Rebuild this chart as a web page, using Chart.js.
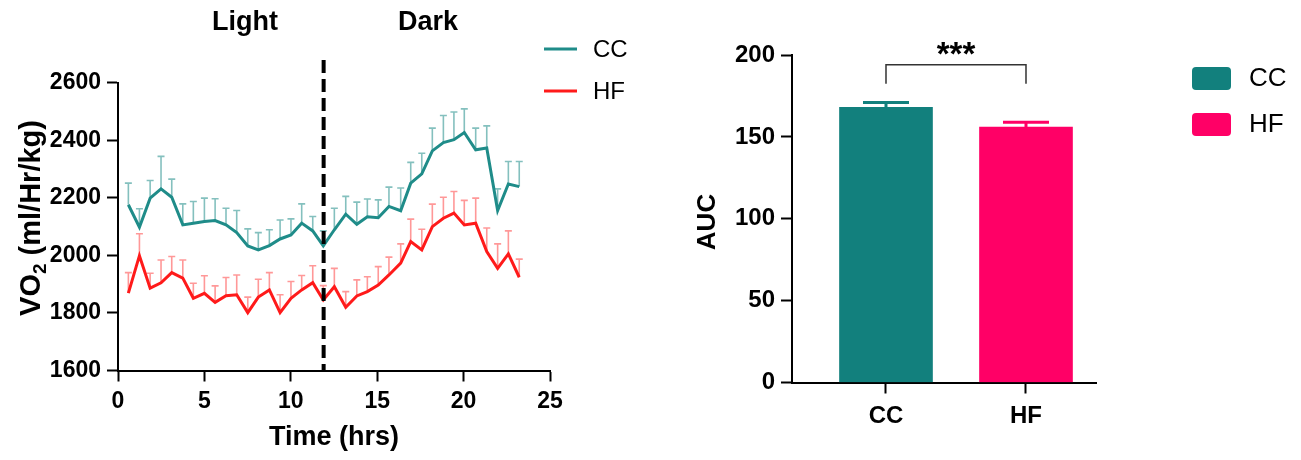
<!DOCTYPE html>
<html>
<head>
<meta charset="utf-8">
<script src="https://cdn.jsdelivr.net/npm/chart.js@4.4.1/dist/chart.umd.min.js"></script>
<style>
  html, body { margin: 0; padding: 0; background: #ffffff; }
  #wrap { position: relative; width: 1301px; height: 460px; overflow: hidden; }
  #left  { position: absolute; left: 0;     top: 0; width: 650px; height: 460px; }
  #right { position: absolute; left: 650px; top: 0; width: 651px; height: 460px; }
</style>
</head>
<body>
<div id="wrap">
  <div id="left"><canvas id="vo2" width="650" height="460"></canvas></div>
  <div id="right"><canvas id="auc" width="651" height="460"></canvas></div>
</div>
<script>
// ---- VO2 time course (mean with upper SEM) ----
const hours = [0.60, 1.24, 1.86, 2.49, 3.11, 3.75, 4.36, 5.00, 5.62, 6.25, 6.87, 7.51, 8.12,
               8.76, 9.38, 10.01, 10.63, 11.27, 11.88, 12.52, 13.18, 13.82, 14.43, 15.06,
               15.68, 16.36, 16.94, 17.58, 18.19, 18.83, 19.44, 20.04, 20.70, 21.34, 21.97,
               22.59, 23.22];
const ccMean = [2176, 2098, 2199, 2231, 2202, 2106, 2112, 2118, 2121, 2106, 2079, 2033, 2019,
                2034, 2057, 2071, 2112, 2085, 2033, 2089, 2143, 2108, 2134, 2131, 2170, 2155,
                2251, 2283, 2363, 2392, 2402, 2427, 2367, 2373, 2156, 2248, 2239];
const ccErr  = [75, 64, 61, 113, 63, 73, 75, 81, 76, 58, 77, 59, 60, 55, 66, 56, 67, 50, 52,
                75, 62, 77, 62, 62, 67, 79, 72, 72, 79, 94, 96, 82, 75, 77, 75, 78, 87];
const hfMean = [1869, 1999, 1886, 1905, 1940, 1921, 1851, 1868, 1837, 1860, 1863, 1801, 1855,
                1880, 1801, 1851, 1880, 1905, 1845, 1891, 1820, 1859, 1874, 1897, 1932, 1973,
                2048, 2019, 2100, 2129, 2147, 2106, 2112, 2013, 1955, 2005, 1924];
const hfErr  = [71, 76, 52, 79, 56, 63, 52, 61, 57, 63, 69, 54, 62, 60, 62, 58, 50, 59, 50,
                64, 54, 56, 52, 64, 62, 67, 78, 72, 78, 73, 75, 85, 87, 82, 85, 80, 63];
const timeTicks = [0, 5, 10, 15, 20, 25];
const vo2Ticks = [1600, 1800, 2000, 2200, 2400, 2600];
const phaseBoundary = 11.9;   // lights off
const phaseLabels = ['Light', 'Dark'];

// ---- Area under the curve ----
const groups = ['CC', 'HF'];
const aucMean = [168, 156];
const aucErr = [3, 3];
const aucTicks = [0, 50, 100, 150, 200];

const SANS = "'Liberation Sans', Arial, Helvetica, sans-serif";
const CC_LINE = '#1f8c89';
const CC_ERR = 'rgba(31,140,137,0.55)';
const HF_LINE = '#ff1a1a';
const HF_ERR = 'rgba(255,26,26,0.45)';
const CC_BAR = '#12807d';
const HF_BAR = '#ff0066';

function axisStyle(size) {
  return {
    grid: { drawOnChartArea: false, drawTicks: true, offset: false, tickLength: 11, tickWidth: 2, tickColor: '#000' },
    border: { display: true, width: 2, color: '#000' },
    ticks: { color: '#000', font: { family: SANS, size: size, weight: 'bold' }, callback: v => String(v) }
  };
}

// upper error bars drawn beneath the mean lines
const lineErrorBars = {
  id: 'lineErrorBars',
  beforeDatasetsDraw(chart) {
    const { ctx, scales: { x, y } } = chart;
    chart.data.datasets.forEach(ds => {
      ctx.save();
      ctx.strokeStyle = ds.errColor;
      ctx.lineWidth = 1.6;
      ds.data.forEach((p, i) => {
        const px = x.getPixelForValue(p.x);
        const py = y.getPixelForValue(p.y);
        const pt = y.getPixelForValue(p.y + ds.errors[i]);
        ctx.beginPath();
        ctx.moveTo(px, py); ctx.lineTo(px, pt);
        ctx.moveTo(px - 3.5, pt); ctx.lineTo(px + 3.5, pt);
        ctx.stroke();
      });
      ctx.restore();
    });
  }
};

// dashed light/dark divider, phase names, legend and axis titles
const vo2Decor = {
  id: 'vo2Decor',
  afterDatasetsDraw(chart) {
    const { ctx, chartArea, scales: { x } } = chart;
    const bx = x.getPixelForValue(phaseBoundary);
    ctx.save();
    ctx.strokeStyle = '#000';
    ctx.lineWidth = 4;
    ctx.setLineDash([13, 6]);
    ctx.beginPath();
    ctx.moveTo(bx, 60);
    ctx.lineTo(bx, chartArea.bottom);
    ctx.stroke();
    ctx.restore();
  },
  afterDraw(chart) {
    const { ctx, chartArea } = chart;
    ctx.save();
    ctx.fillStyle = '#000';
    ctx.textAlign = 'center';
    ctx.textBaseline = 'middle';
    ctx.font = `bold 27px ${SANS}`;
    ctx.fillText(phaseLabels[0], 245, 23);
    ctx.fillText(phaseLabels[1], 428, 23);

    // x title
    ctx.fillText('Time (hrs)', (chartArea.left + chartArea.right) / 2, 438);

    // y title with subscript
    ctx.save();
    ctx.translate(30, 218);
    ctx.rotate(-Math.PI / 2);
    const big = `bold 29px ${SANS}`, small = `bold 19px ${SANS}`;
    ctx.font = big; const w1 = ctx.measureText('VO').width;
    ctx.font = small; const w2 = ctx.measureText('2').width;
    ctx.font = big; const w3 = ctx.measureText(' (ml/Hr/kg)').width;
    let sx = -(w1 + w2 + w3) / 2;
    ctx.textAlign = 'left';
    ctx.textBaseline = 'alphabetic';
    ctx.font = big; ctx.fillText('VO', sx, 10); sx += w1;
    ctx.font = small; ctx.fillText('2', sx, 16); sx += w2;
    ctx.font = big; ctx.fillText(' (ml/Hr/kg)', sx, 10);
    ctx.restore();

    // legend
    const items = [
      { label: 'CC', color: CC_LINE, y: 49 },
      { label: 'HF', color: HF_LINE, y: 91 }
    ];
    ctx.font = `24px ${SANS}`;
    ctx.textAlign = 'left';
    ctx.textBaseline = 'middle';
    items.forEach(it => {
      ctx.strokeStyle = it.color;
      ctx.lineWidth = 3;
      ctx.beginPath();
      ctx.moveTo(544, it.y); ctx.lineTo(577, it.y);
      ctx.stroke();
      ctx.fillStyle = '#000';
      ctx.fillText(it.label, 593, it.y + 1);
    });
    ctx.restore();
  }
};

const xs = axisStyle(23), ys = axisStyle(23);
new Chart(document.getElementById('vo2'), {
  type: 'line',
  data: {
    datasets: [
      { label: 'CC', data: hours.map((h, i) => ({ x: h, y: ccMean[i] })), errors: ccErr, errColor: CC_ERR,
        borderColor: CC_LINE, borderWidth: 3, pointRadius: 0, tension: 0, fill: false },
      { label: 'HF', data: hours.map((h, i) => ({ x: h, y: hfMean[i] })), errors: hfErr, errColor: HF_ERR,
        borderColor: HF_LINE, borderWidth: 3, pointRadius: 0, tension: 0, fill: false }
    ]
  },
  options: {
    responsive: false,
    animation: false,
    layout: { padding: { left: 0, right: 100, top: 82.7, bottom: 0 } },
    plugins: { legend: { display: false }, tooltip: { enabled: false } },
    scales: {
      x: {
        type: 'linear', min: timeTicks[0], max: timeTicks[timeTicks.length - 1],
        afterBuildTicks(s) { s.ticks = timeTicks.map(v => ({ value: v })); },
        grid: xs.grid, border: xs.border,
        ticks: Object.assign({}, xs.ticks, { padding: 6, maxRotation: 0 }),
        afterFit(s) { s.height = 89.5; }
      },
      y: {
        type: 'linear', min: vo2Ticks[0], max: vo2Ticks[vo2Ticks.length - 1],
        afterBuildTicks(s) { s.ticks = vo2Ticks.map(v => ({ value: v })); },
        grid: ys.grid, border: ys.border,
        ticks: Object.assign({}, ys.ticks, { padding: 6 }),
        afterFit(s) { s.width = 118; }
      }
    }
  },
  plugins: [lineErrorBars, vo2Decor]
});

// ---- AUC bar chart ----
const barDecor = {
  id: 'barDecor',
  afterDatasetsDraw(chart) {
    const { ctx, scales: { x, y } } = chart;
    const ds = chart.data.datasets[0];
    ctx.save();
    ds.data.forEach((p, i) => {
      const px = x.getPixelForValue(p.x);
      const py = y.getPixelForValue(p.y);
      const pt = y.getPixelForValue(p.y + ds.errors[i]);
      ctx.strokeStyle = ds.backgroundColor[i];
      ctx.lineWidth = 3;
      ctx.beginPath();
      ctx.moveTo(px, py); ctx.lineTo(px, pt);
      ctx.moveTo(px - 23, pt); ctx.lineTo(px + 23, pt);
      ctx.stroke();
    });

    // significance bracket
    const x1 = x.getPixelForValue(1), x2 = x.getPixelForValue(2);
    const yl = y.getPixelForValue(182.5), yt = y.getPixelForValue(194);
    ctx.strokeStyle = '#333';
    ctx.lineWidth = 1.5;
    ctx.beginPath();
    ctx.moveTo(x1, yl); ctx.lineTo(x1, yt); ctx.lineTo(x2, yt); ctx.lineTo(x2, yl);
    ctx.stroke();
    ctx.fillStyle = '#000';
    ctx.font = `bold 33px ${SANS}`;
    ctx.textAlign = 'center';
    ctx.textBaseline = 'alphabetic';
    ctx.fillText('***', (x1 + x2) / 2, 65);
    ctx.restore();
  },
  afterDraw(chart) {
    const { ctx } = chart;
    ctx.save();
    // y title
    ctx.fillStyle = '#000';
    ctx.translate(58, 222);
    ctx.rotate(-Math.PI / 2);
    ctx.font = `bold 26px ${SANS}`;
    ctx.textAlign = 'center';
    ctx.textBaseline = 'middle';
    ctx.fillText('AUC', 0, 0);
    ctx.restore();

    // legend
    ctx.save();
    const items = [
      { label: groups[0], color: CC_BAR, y: 67 },
      { label: groups[1], color: HF_BAR, y: 113 }
    ];
    ctx.font = `26px ${SANS}`;
    ctx.textAlign = 'left';
    ctx.textBaseline = 'middle';
    items.forEach(it => {
      ctx.fillStyle = it.color;
      ctx.beginPath();
      ctx.roundRect(542, it.y, 39, 23, 4);
      ctx.fill();
      ctx.fillStyle = '#000';
      ctx.fillText(it.label, 599, it.y + 12);
    });
    ctx.restore();
  }
};

const bx = axisStyle(24), by = axisStyle(24);
new Chart(document.getElementById('auc'), {
  type: 'bar',
  data: {
    datasets: [{
      data: groups.map((g, i) => ({ x: i + 1, y: aucMean[i] })),
      errors: aucErr,
      backgroundColor: [CC_BAR, HF_BAR],
      barThickness: 93,
      borderWidth: 0
    }]
  },
  options: {
    responsive: false,
    animation: false,
    layout: { padding: { left: 0, right: 205, top: 55, bottom: 0 } },
    plugins: { legend: { display: false }, tooltip: { enabled: false } },
    scales: {
      x: {
        type: 'linear', min: 0.3286, max: 2.5, offset: false,
        afterBuildTicks(s) { s.ticks = groups.map((g, i) => ({ value: i + 1 })); },
        grid: bx.grid, border: bx.border,
        ticks: Object.assign({}, bx.ticks, { padding: 8, callback: v => groups[Math.round(v) - 1] }),
        afterFit(s) { s.height = 77.5; }
      },
      y: {
        type: 'linear', min: aucTicks[0], max: aucTicks[aucTicks.length - 1],
        afterBuildTicks(s) { s.ticks = aucTicks.map(v => ({ value: v })); },
        grid: by.grid, border: by.border,
        ticks: Object.assign({}, by.ticks, { padding: 6 }),
        afterFit(s) { s.width = 142; }
      }
    }
  },
  plugins: [barDecor]
});
</script>
</body>
</html>
